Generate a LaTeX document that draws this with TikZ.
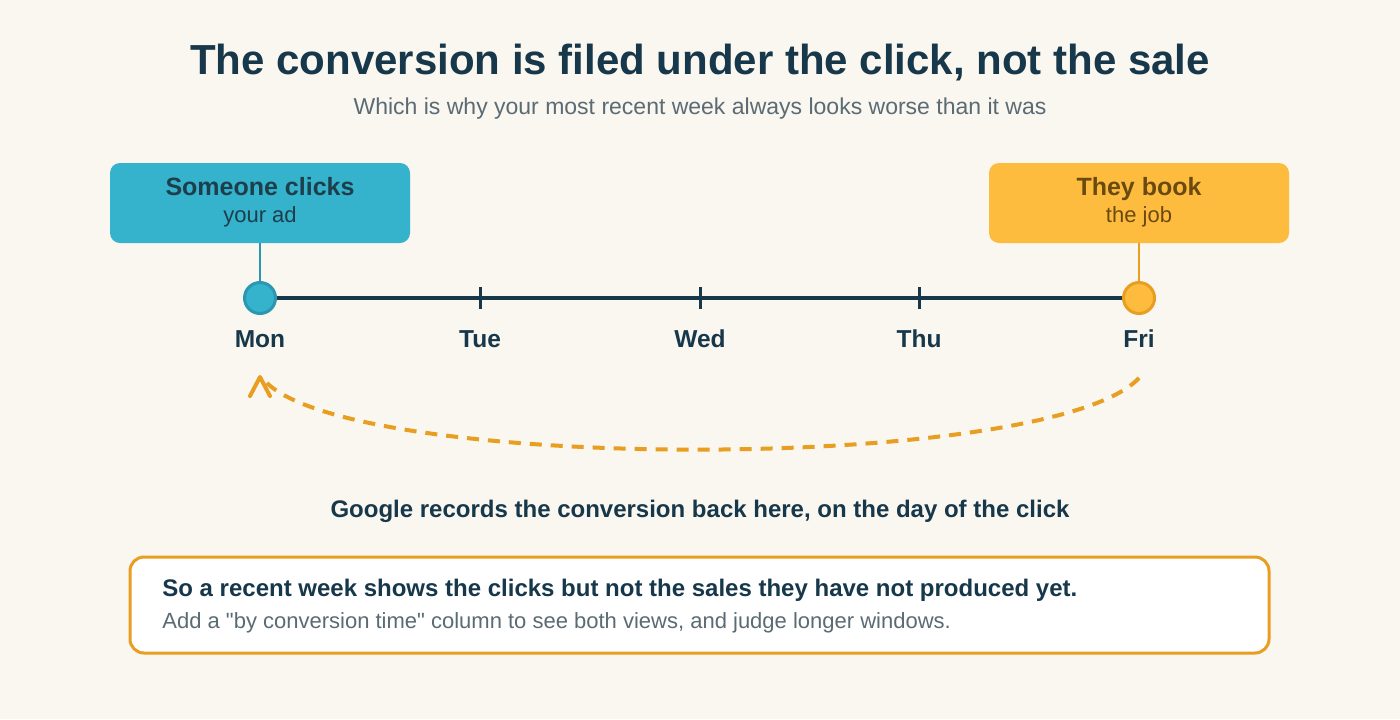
\documentclass[tikz,border=0pt]{standalone}
\usepackage{fontspec}
\setmainfont{Liberation Sans}
\definecolor{bg}{HTML}{FAF6F0}
\definecolor{navy}{HTML}{17384A}
\definecolor{subgray}{HTML}{5B6B73}
\definecolor{teal}{HTML}{35B2CC}
\definecolor{tealdark}{HTML}{2B97B0}
\definecolor{tealtext}{HTML}{1E3E4C}
\definecolor{amber}{HTML}{FDBC3E}
\definecolor{amberdark}{HTML}{E89E20}
\definecolor{ambertext}{HTML}{6A4A10}
\begin{document}
\begin{tikzpicture}[x=0.5pt,y=-0.5pt,
  txt/.style={inner sep=0pt, anchor=base},
  eventbox/.style={rounded corners=5pt, minimum width=150pt, minimum height=40pt, inner sep=0pt},
  dot/.style={circle, minimum size=15.5pt, inner sep=0pt, line width=1.5pt},
  daylabel/.style={txt, font=\fontsize{12.25}{14}\selectfont\bfseries, text=navy},
  tickmark/.style={navy, line width=1.5pt},
  backarc/.style={amberdark, line width=2pt, dash pattern=on 6pt off 4.5pt},
]
\useasboundingbox (0,0) rectangle (1400,719);
\fill[bg] (0,0) rectangle (1400,719);

% titles
\node[txt, font=\fontsize{21}{24}\selectfont\bfseries, text=navy] (title) at (700,74) {The conversion is filed under the click, not the sale};
\node[txt, font=\fontsize{11.5}{13}\selectfont, text=subgray] (subtitle) at (700,114) {Which is why your most recent week always looks worse than it was};

% event boxes
\node[eventbox, fill=teal] (click) at (260,203) {};
\node[txt, font=\fontsize{12.5}{14}\selectfont\bfseries, text=tealtext] (clickt1) at (260,195) {Someone clicks};
\node[txt, font=\fontsize{11}{13}\selectfont, text=tealtext] (clickt2) at (260,222) {your ad};

\node[eventbox, fill=amber] (book) at (1139,203) {};
\node[txt, font=\fontsize{12.5}{14}\selectfont\bfseries, text=ambertext] (bookt1) at (1139,195) {They book};
\node[txt, font=\fontsize{11}{13}\selectfont, text=ambertext] (bookt2) at (1139,222) {the job};

% timeline
\node[dot, fill=teal, draw=tealdark] (mon) at (260,298) {};
\node[dot, fill=amber, draw=amberdark] (fri) at (1139,298) {};
\draw[navy, line width=2pt] (mon.east) -- (fri.west);
\draw[tealdark, line width=1pt] (click.south) -- (mon.north);
\draw[amberdark, line width=1pt] (book.south) -- (fri.north);

\coordinate (tue) at (480,298);
\coordinate (wed) at (700,298);
\coordinate (thu) at (919,298);
\foreach \c in {tue,wed,thu}{
  \draw[tickmark] ([yshift=5.5pt]\c) -- ([yshift=-5.5pt]\c);
}

\node[daylabel] (lmon) at (260,347) {Mon};
\node[daylabel] (ltue) at (480,347) {Tue};
\node[daylabel] (lwed) at (700,347) {Wed};
\node[daylabel] (lthu) at (919,347) {Thu};
\node[daylabel] (lfri) at (1139,347) {Fri};

% back arc
\coordinate (arcstart) at (1139,378);
\coordinate (arcend) at (265,381);
\coordinate (tip) at (260,377);
\draw[backarc] (arcstart) .. controls (1050,473) and (350,473) .. (arcend);
\draw[amberdark, line width=2pt, line cap=round, line join=round] (250,396) -- (tip) -- (270,396);

\node[txt, font=\fontsize{12}{14}\selectfont\bfseries, text=navy] (google) at (700,517) {Google records the conversion back here, on the day of the click};

% bottom box
\node[draw=amberdark, fill=white, line width=1.5pt, rounded corners=7pt, minimum width=569.5pt, minimum height=48pt, inner sep=0pt] (note) at (699.5,605) {};
\node[txt, anchor=base west, font=\fontsize{12}{14}\selectfont\bfseries, text=navy] (note1) at (162,596) {So a recent week shows the clicks but not the sales they have not produced yet.};
\node[txt, anchor=base west, font=\fontsize{11}{13}\selectfont, text=subgray] (note2) at (162,628) {Add a \textquotedbl by conversion time\textquotedbl{} column to see both views, and judge longer windows.};
\end{tikzpicture}
\end{document}
